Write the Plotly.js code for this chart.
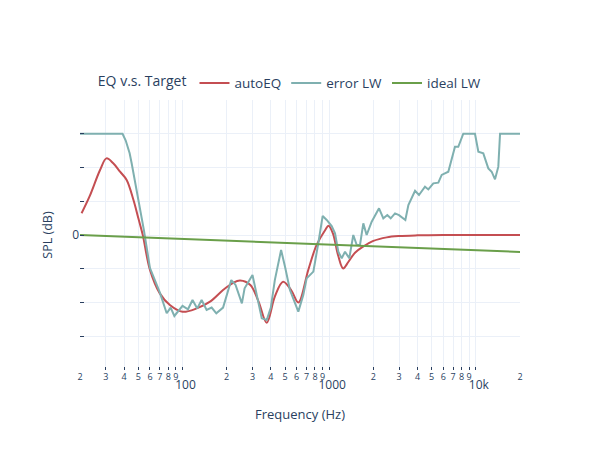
<!DOCTYPE html>
<html>
<head>
<meta charset="utf-8">
<script src="https://cdn.plot.ly/plotly-3.0.1.min.js"></script>
<style>html,body{margin:0;padding:0;background:#fff;}</style>
</head>
<body>
<div id="chart" style="width:600px;height:450px;"></div>
<script>
// autoEQ curve (Hz, dB)
const eqFreq = [20.5, 23.2, 27.4, 30.3, 33.7, 37.5, 41.6, 46.3, 50.0, 53.6, 60, 70, 82, 100, 125, 154, 189, 220, 247, 290, 330, 375, 426, 485, 550, 616, 720, 820, 940, 990, 1060, 1150, 1245, 1350, 1500, 1702, 2000, 2466, 3000, 4000, 6000, 10000, 20000];
const eqGain = [1.29, 2.27, 3.85, 4.54, 4.25, 3.75, 3.26, 2.07, 0.99, 0.0, -2.07, -3.46, -4.15, -4.55, -4.35, -3.95, -3.26, -2.85, -2.7, -2.96, -3.95, -5.2, -3.65, -2.77, -3.26, -4.0, -2.07, -0.6, 0.3, 0.55, 0.1, -1.2, -1.98, -1.6, -1.05, -0.69, -0.35, -0.14, -0.06, -0.02, 0.0, 0.0, 0.0];

// error LW curve (Hz, dB)
const errFreq = [20, 25, 30, 35, 39, 41, 43.6, 45, 48.1, 51.3, 54.5, 60, 70, 78, 83, 88, 100, 109, 117, 126, 135, 146, 158, 170, 189, 215, 230, 254, 265, 300, 323, 347, 375, 400, 426, 470, 500, 540, 616, 666, 702, 780, 843, 903, 962, 1040, 1096, 1154, 1217, 1282, 1371, 1460, 1541, 1622, 1709, 1801, 1949, 2187, 2340, 2491, 2627, 2811, 2993, 3306, 3467, 3850, 4096, 4500, 4742, 5130, 5549, 5851, 6490, 7206, 7590, 8210, 9865, 10400, 11240, 12160, 12820, 13510, 14230, 14620, 17000, 20000];
const errGain = [6.0, 6.0, 6.0, 6.0, 6.0, 5.6, 4.84, 4.25, 2.86, 1.48, 0.3, -1.96, -3.4, -4.64, -4.3, -4.8, -4.2, -4.4, -3.85, -4.35, -3.85, -4.44, -4.3, -4.64, -4.3, -2.67, -2.96, -4.05, -3.16, -2.37, -3.65, -4.94, -5.04, -4.3, -2.67, -0.89, -1.88, -3.26, -4.54, -3.55, -2.57, -2.17, -0.49, 1.13, 0.89, 0.53, 0.1, -0.99, -1.38, -0.99, -1.38, 0.0, -0.59, -0.59, 0.69, 0.0, 0.79, 1.58, 0.99, 1.18, 0.99, 1.28, 1.18, 0.89, 1.78, 2.62, 2.37, 2.86, 2.7, 3.06, 3.1, 3.56, 3.75, 5.23, 5.23, 6.0, 6.0, 4.94, 4.84, 3.95, 3.75, 3.3, 4.05, 6.0, 6.0, 6.0];

// ideal LW (Hz, dB)
const idealFreq = [20, 200, 2000, 20000];
const idealGain = [0.0, -0.33, -0.67, -1.0];

const yTickVals = [-6, -4, -2, 0, 2, 4, 6];
const yTickText = ['', '', '', '0', '', '', ''];

const traces = [
  {x: eqFreq, y: eqGain, name: 'autoEQ', mode: 'lines', line: {color: '#c44e52', width: 2, shape: 'spline'}},
  {x: errFreq, y: errGain, name: 'error LW', mode: 'lines', line: {color: '#7fb0b0', width: 2}},
  {x: idealFreq, y: idealGain, name: 'ideal LW', mode: 'lines', line: {color: '#6a9f4a', width: 2}}
];

const layout = {
  template: 'plotly_white',
  width: 600, height: 450,
  margin: {l: 80, r: 80, t: 100, b: 80},
  paper_bgcolor: '#fff', plot_bgcolor: '#fff',
  font: {family: '"Open Sans", verdana, arial, sans-serif', color: '#2a3f5f', size: 12},
  legend: {orientation: 'h', x: 0.036, xanchor: 'left', y: 1.005, yanchor: 'bottom',
           title: {text: 'EQ v.s. Target', font: {size: 14}}, font: {size: 13.5}},
  xaxis: {type: 'log', range: [Math.log10(20), Math.log10(20000)], dtick: 'D1',
          gridcolor: '#EBF0F8', ticks: 'inside', ticklen: 3, tickcolor: '#2a3f5f',
          title: {text: 'Frequency (Hz)', font: {size: 13}}, zeroline: false, showline: false},
  yaxis: {range: [-8, 8], tickvals: yTickVals, ticktext: yTickText,
          gridcolor: '#EBF0F8', ticks: 'inside', ticklen: 4, tickcolor: '#2a3f5f',
          title: {text: 'SPL (dB)', font: {size: 12.5}, standoff: 16}, zeroline: false, showline: false}
};

Plotly.newPlot('chart', traces, layout, {displayModeBar: false});
</script>
</body>
</html>
